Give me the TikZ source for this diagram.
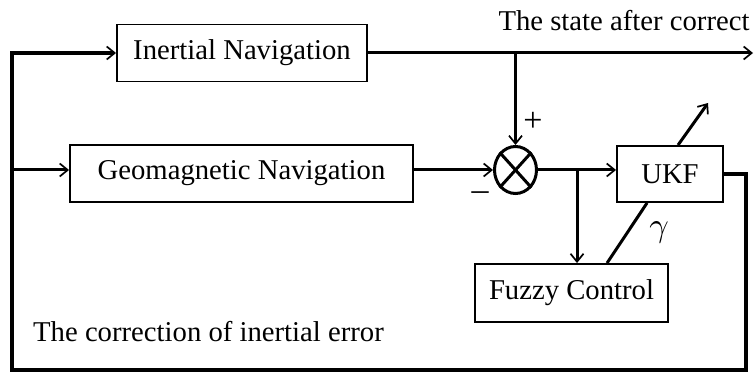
\documentclass[tikz,border=0pt]{standalone}
\usepackage{fontspec}
\setmainfont{Liberation Serif}
\usetikzlibrary{arrows.meta,calc,shapes.geometric}
\begin{document}
\begin{tikzpicture}[x=1pt,y=-1pt,
  blk/.style={draw,line width=1.9pt,rectangle,inner sep=0pt,font=\fontsize{28.7}{32}\selectfont},
  conn/.style={line width=3pt},
  arr/.style={conn,-{Straight Barb[length=8pt,width=13pt,line width=1.7pt]}},
  lbl/.style={font=\fontsize{28.7}{32}\selectfont,inner sep=0pt},
  sgn/.style={font=\fontsize{34}{36}\selectfont,inner sep=0pt}]
\useasboundingbox (0,0) rectangle (755,374);
% blocks
\node[blk,minimum width=250pt,minimum height=57pt] (ins) at (242,53) {Inertial Navigation};
\node[blk,minimum width=343pt,minimum height=57pt] (geo) at (241.5,173.5) {Geomagnetic Navigation};
\node[blk,minimum width=106pt,minimum height=56pt] (ukf) at (670,174) {UKF};
\node[blk,minimum width=193pt,minimum height=58pt] (fz) at (571.5,293) {Fuzzy Control};
\node[ellipse,draw,line width=3pt,minimum width=42pt,minimum height=47pt,inner sep=0pt] (sum) at (515.5,170) {};
\draw[conn] (sum.north west) -- (sum.south east);
\draw[conn] (sum.north east) -- (sum.south west);
% coordinates
\coordinate (out) at (753,53);
\coordinate (br) at (577,170);
\coordinate (tune) at (708,103);
\coordinate (c1) at (746,370);
\coordinate (c2) at (12,370);
% connectors
\draw[arr] (ins.east) -- (out);
\draw[arr] (ins.east -| sum.north) -- (sum.north);
\draw[arr] (sum.west -| geo.east) -- (sum.west);
\draw[arr] (sum.east) -- (sum.east -| ukf.west);
\draw[arr] (br) -- (br |- fz.north);
\draw[conn] ($(fz.north west)+(133,0)$) -- ($(ukf.south west)+(31,0)$);
\draw[arr] ($(ukf.north west)+(62,0)$) -- (tune);
\draw[arr,line width=3.5pt] (ukf.east) -| (c1) -- (c2) |- (ins.west);
\draw[arr] (c2 |- sum.west) -- (sum.west -| geo.west);
% labels
\node[lbl] (st) at (624,21) {The state after correct};
\node[lbl,anchor=west] (ce) at (33,332) {The correction of inertial error};
\node[sgn] (plus) at (533,122) {+};
\node[sgn] (minus) at (480,196) {–};
\node[inner sep=0pt] (gam) at (659,232) {\scalebox{3.4}{$\gamma$}};
\end{tikzpicture}
\end{document}
